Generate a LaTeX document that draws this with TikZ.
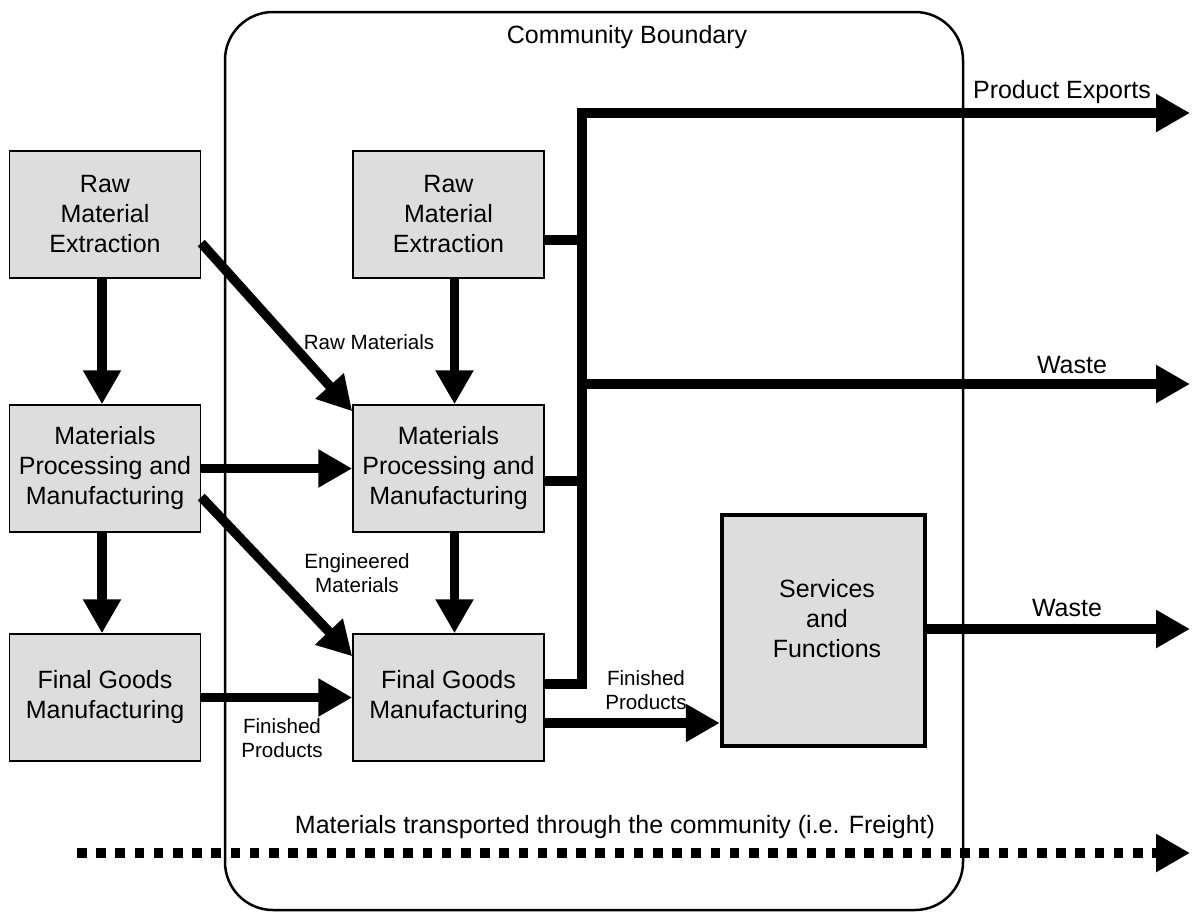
\documentclass[tikz,border=0pt]{standalone}
\usepackage{fontspec}
\setmainfont{Liberation Sans}
\usetikzlibrary{arrows.meta}
\definecolor{boxgray}{HTML}{DDDDDD}
\begin{document}
\begin{tikzpicture}[x=1pt,y=-1pt,
  procbox/.style={draw=black, line width=1.5pt, fill=boxgray,
    minimum width=191pt, minimum height=127pt, inner sep=0pt,
    align=center, font=\fontsize{25}{30}\selectfont},
  bigtext/.style={inner sep=0pt, align=center, font=\fontsize{25}{30}\selectfont},
  smalltext/.style={inner sep=0pt, align=center, font=\fontsize{20.6}{24.5}\selectfont},
  thickflow/.style={line width=9.5pt, line join=miter},
  bigtip/.style={-{Triangle[length=34pt,width=36pt]}},
  freightline/.style={line width=10pt, dash pattern=on 9.5pt off 9.7pt}
]
\useasboundingbox (0,0) rectangle (1196,911);

% community boundary
\node[draw=black, line width=2.5pt, rounded corners=48pt,
      minimum width=738pt, minimum height=898pt, inner sep=0pt]
      (boundary) at (594,461) {};
\node[bigtext] (cbl) at (627,37) {Community Boundary};

% outside production chain
\node[procbox] (lraw) at (105,214.5) {Raw\\Material\\Extraction};
\node[procbox] (lmat) at (105,468.5) {Materials\\Processing and\\Manufacturing};
\node[procbox] (lfin) at (105,697.5) {Final Goods\\Manufacturing};

% local production chain
\node[procbox] (mraw) at (448.5,214.5) {Raw\\Material\\Extraction};
\node[procbox] (mmat) at (448.5,468.5) {Materials\\Processing and\\Manufacturing};
\node[procbox] (mfin) at (448.5,697.5) {Final Goods\\Manufacturing};

% services
\node[draw=black, line width=4.5pt, fill=boxgray, minimum width=203pt,
      minimum height=231pt, inner sep=0pt] (svc) at (823.5,630.5) {};
\node[bigtext] (svclabel) at (827,619) {Services\\and\\Functions};

% named free ends
\coordinate (trunk) at (582,113);
\coordinate (peend) at (1190,113);
\coordinate (w1s) at (582,384);
\coordinate (w1e) at (1190,384);
\coordinate (w2e) at (1190,629);
\coordinate (fs) at (77,853);
\coordinate (fe) at (1190,853);

% vertical flows
\draw[thickflow, bigtip] ([xshift=-3pt]lraw.south) -- ([xshift=-3pt]lmat.north);
\draw[thickflow, bigtip] ([xshift=-3pt]lmat.south) -- ([xshift=-3pt]lfin.north);
\draw[thickflow, bigtip] ([xshift=6pt]mraw.south) -- ([xshift=6pt]mmat.north);
\draw[thickflow, bigtip] ([xshift=6pt]mmat.south) -- ([xshift=6pt]mfin.north);

% imports into the community
\draw[thickflow, bigtip] ([yshift=-28.5pt]lraw.east) -- ([yshift=-7pt]mmat.north west);
\draw[thickflow, bigtip] ([yshift=-28.5pt]lmat.east) -- ([yshift=-23pt]mfin.north west);
\draw[thickflow, bigtip] (lmat.east) -- (mmat.west);
\draw[thickflow, bigtip] (lfin.east) -- (mfin.west);

% collector trunk and exports
\draw[thickflow, bigtip] ([yshift=13.5pt]mfin.east) -| (trunk) -- (peend);
\draw[thickflow] ([yshift=-25.5pt]mraw.east) coordinate (r1) -- (r1 -| trunk);
\draw[thickflow] ([yshift=-12.5pt]mmat.east) coordinate (r2) -- (r2 -| trunk);
\draw[thickflow, bigtip] (w1s) -- (w1e);

% products to services, services waste
\draw[thickflow, bigtip] ([yshift=-25.5pt]mfin.east) coordinate (fp) -- (fp -| svc.west);
\draw[thickflow, bigtip] (svc.east |- w2e) -- (w2e);

% freight through the community
\draw[freightline, bigtip] (fs) -- (fe);

% flow labels
\node[bigtext] (pel) at (1062,92) {Product Exports};
\node[bigtext] (w1l) at (1072,365) {Waste};
\node[bigtext] (w2l) at (1067,608) {Waste};
\node[bigtext] (frl) at (615,827) {Materials transported through the community (i.e. Freight)};
\node[smalltext] (rml) at (369,342) {Raw Materials};
\node[smalltext] (eml) at (357,573) {Engineered\\Materials};
\node[smalltext] (fpl1) at (282,738) {Finished\\Products};
\node[smalltext] (fpl2) at (646,690) {Finished\\Products};
\end{tikzpicture}
\end{document}
